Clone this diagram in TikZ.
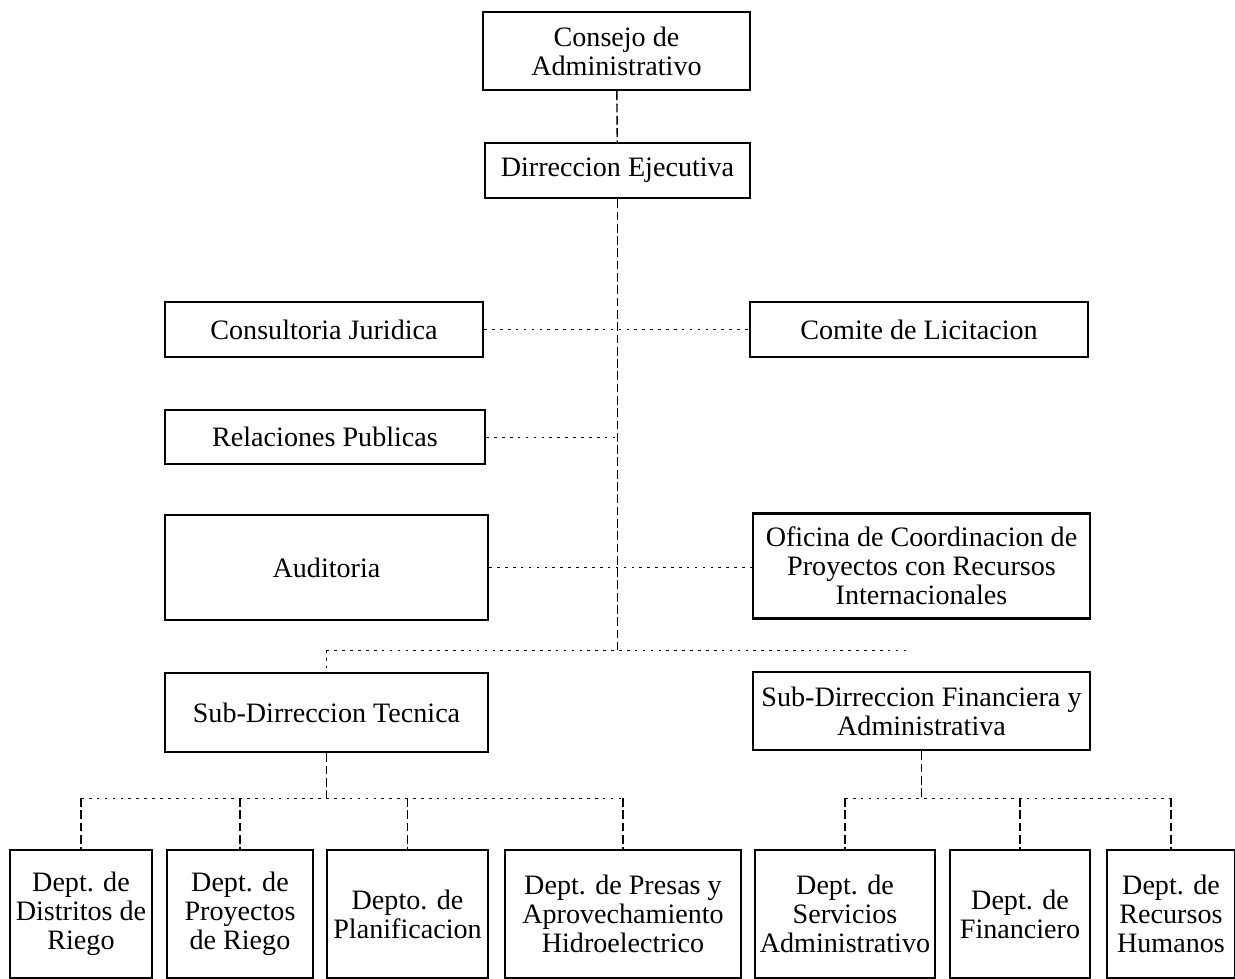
\documentclass[tikz,border=0pt]{standalone}
\usepackage{fontspec}
\setmainfont{Liberation Serif}

\begin{document}
\begin{tikzpicture}[x=0.02cm,y=-0.02cm,
  box/.style={draw,line width=1.4pt,align=center,inner sep=1pt,font=\fontsize{16}{16.5}\selectfont},
  dept/.style={box,minimum height=2.56cm},
  link/.style={thick,dash pattern=on 5pt off 2pt},
  dotlink/.style={thin,dash pattern=on 1.5pt off 3pt}]

\useasboundingbox (0,0) rectangle (1235,979);

\node[box,minimum width=5.34cm,minimum height=1.56cm] (consejo) at (616.5,51) {Consejo de\\Administrativo};
\node[box,minimum width=5.30cm,minimum height=1.10cm] (direccion) at (617.5,170.5) {Dirreccion Ejecutiva};
\node[box,minimum width=6.36cm,minimum height=1.10cm] (consultoria) at (324,329.5) {Consultoria Juridica};
\node[box,minimum width=6.76cm,minimum height=1.10cm] (comite) at (919,329.5) {Comite de Licitacion};
\node[box,minimum width=6.40cm,minimum height=1.08cm] (relaciones) at (325,437) {Relaciones Publicas};
\node[box,minimum width=6.46cm,minimum height=2.10cm] (auditoria) at (326.5,567.5) {Auditoria};
\node[box,minimum width=6.74cm,minimum height=2.10cm] (oficina) at (921.5,566) {Oficina de Coordinacion de\\Proyectos con Recursos\\Internacionales};
\node[box,minimum width=6.46cm,minimum height=1.58cm] (subtecnica) at (326.5,712.5) {Sub-Dirreccion Tecnica};
\node[box,minimum width=6.74cm,minimum height=1.56cm] (subfinanciera) at (921.5,711) {Sub-Dirreccion Financiera y\\Administrativa};

% departamentos
\node[dept,minimum width=2.84cm] (distritos) at (81,914) {Dept. de\\Distritos de\\Riego};
\node[dept,minimum width=2.92cm] (proyectos) at (240,914) {Dept. de\\Proyectos\\de Riego};
\node[dept,minimum width=3.22cm] (planificacion) at (407.5,914) {Depto. de\\Planificacion};
\node[dept,minimum width=4.72cm] (presas) at (623,914) {Dept. de Presas y\\Aprovechamiento\\Hidroelectrico};
\node[dept,minimum width=3.60cm] (servicios) at (845,914) {Dept. de\\Servicios\\Administrativo};
\node[dept,minimum width=2.80cm] (financiero) at (1020,914) {Dept. de\\Financiero};
\node[dept,minimum width=2.56cm] (recursos) at (1171,914) {Dept. de\\Recursos\\Humanos};

% lineas
\draw[link] (consejo) -- (direccion);
\coordinate (spine) at (617.5,650);
\coordinate (spineend) at (910,650);
\draw[link] (direccion) -- (spine);
\draw[dotlink] (consultoria) -- (comite);
\draw[dotlink] (relaciones) -- (relaciones -| direccion);
\draw[dotlink] (auditoria.east) -- (auditoria.east -| oficina.west);
\draw[dotlink] (subtecnica.north |- spine) -- (spineend);
\draw[dotlink] (subtecnica.north |- spine) -- (subtecnica.north);

\coordinate (busT) at (326.5,798);
\coordinate (busF) at (921.5,798);
\draw[link] (subtecnica) -- (busT);
\draw[dotlink] (distritos.north |- busT) -- (presas.north |- busT);
\foreach \d in {distritos,proyectos,planificacion,presas}
  \draw[link] (\d.north |- busT) -- (\d.north);
\draw[link] (subfinanciera) -- (busF);
\draw[dotlink] (servicios.north |- busF) -- (recursos.north |- busF);
\foreach \d in {servicios,financiero,recursos}
  \draw[link] (\d.north |- busF) -- (\d.north);
\end{tikzpicture}
\end{document}
